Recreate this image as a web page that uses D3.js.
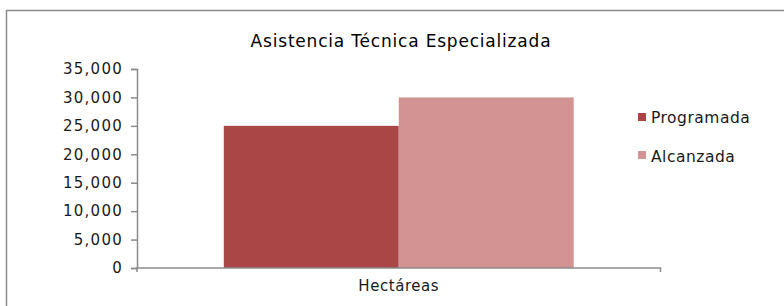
<!DOCTYPE html>
<html><head><meta charset="utf-8">
<script src="https://cdn.jsdelivr.net/npm/d3@7/dist/d3.min.js"></script>
<style>body{margin:0;background:#fff}svg{display:block}text{font-family:"DejaVu Sans",sans-serif;fill:#1a1a1a}</style>
</head><body><svg id="c" width="784" height="306"></svg>
<script>
const categories = ["Hectáreas"];
const seriesNames = ["Programada", "Alcanzada"];
const programada = [25000];
const alcanzada = [30000];
const yTicks = [0, 5000, 10000, 15000, 20000, 25000, 30000, 35000];
const colors = ["#A84745", "#D39392"];
const title = "Asistencia Técnica Especializada";

const svg = d3.select("#c");
svg.append("rect").attr("x",6.5).attr("y",10.5).attr("width",800).attr("height",320)
  .attr("fill","none").attr("stroke","#8c8c8c").attr("stroke-width",1.5);

const x0 = d3.scaleBand().domain(categories).range([137, 660.5]).paddingInner(0).paddingOuter(0);
const x1 = d3.scaleBand().domain(seriesNames).range([0, x0.bandwidth()]).paddingInner(0).paddingOuter(0.496);
const y = d3.scaleLinear().domain([0, 35000]).range([268, 69]);

const yAxis = d3.axisLeft(y).tickValues(yTicks).tickSize(6).tickPadding(8)
  .tickFormat(d3.format(","));
const gy = svg.append("g").attr("transform","translate(137,0)").call(yAxis);
gy.select(".domain").attr("stroke","#8c8c8c").attr("stroke-width",1.5);
gy.selectAll(".tick line").attr("stroke","#8c8c8c").attr("stroke-width",1.5);
gy.selectAll("text").style("font-size","15px").style("letter-spacing","1.25px").attr("fill","#1a1a1a");

const data = categories.map((c,i)=>({cat:c, vals:[programada[i], alcanzada[i]]}));
const g = svg.append("g");
data.forEach(d=>{
  g.selectAll(null).data(d.vals).enter().append("rect")
    .attr("x",(v,j)=>x0(d.cat)+x1(seriesNames[j]))
    .attr("y",v=>y(v))
    .attr("width",x1.bandwidth())
    .attr("height",v=>y(0)-y(v))
    .attr("fill",(v,j)=>colors[j]);
});

const xAxis = d3.axisBottom(x0).tickSize(0).tickPadding(12);
const gx = svg.append("g").attr("transform","translate(0,268)").call(xAxis);
gx.select(".domain").attr("stroke","#8c8c8c").attr("stroke-width",1.5).attr("d","M137,4V0H660.5V4");
gx.selectAll("text").style("font-size","15px").style("letter-spacing","0.55px").attr("fill","#1a1a1a");

svg.append("text").attr("x",401).attr("y",47).attr("text-anchor","middle")
  .style("font-size","17px").style("letter-spacing","0.8px").style("fill","#000").text(title);

const leg = svg.append("g");
seriesNames.forEach((s,i)=>{
  leg.append("rect").attr("x",638).attr("y",113+i*38).attr("width",8).attr("height",8).attr("fill",colors[i]);
  leg.append("text").attr("x",651).attr("y",123+i*39).style("font-size","15.5px").style("letter-spacing","0.5px").text(s);
});
</script></body></html>
